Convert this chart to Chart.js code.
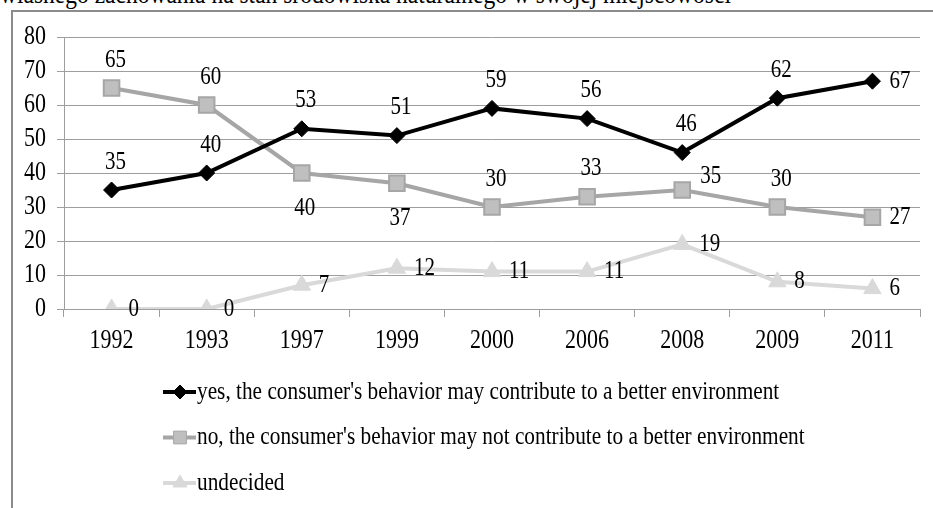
<!DOCTYPE html>
<html>
<head>
<meta charset="utf-8">
<script src="https://cdn.jsdelivr.net/npm/chart.js@4.4.1/dist/chart.umd.min.js"></script>
<style>
  body { margin: 0; background: #fff; overflow: hidden; }
  #wrap { position: relative; width: 933px; height: 508px; overflow: hidden; }
  #caption { position: absolute; left: 0; top: -21px; font: 23.5px 'Liberation Serif', serif; line-height: 24px; white-space: nowrap; color: #000; transform: scaleY(1.2); transform-origin: 0 0; }
  #frame { position: absolute; left: 11px; top: 10px; width: 940px; height: 520px; border-left: 2px solid #8c8c8c; border-top: 2px solid #8c8c8c; }
  canvas { position: absolute; left: 0; top: 0; }
</style>
</head>
<body>
<div id="wrap">
  <div id="caption">własnego zachowania na stan środowiska naturalnego w swojej miejscowości</div>
  <div id="frame"></div>
  <canvas id="myChart" width="933" height="508"></canvas>
</div>
<script>
'use strict';

let years = ['1992', '1993', '1997', '1999', '2000', '2006', '2008', '2009', '2011'];
let yesValues = [35, 40, 53, 51, 59, 56, 46, 62, 67];
let noValues = [65, 60, 40, 37, 30, 33, 35, 30, 27];
let undecidedValues = [0, 0, 7, 12, 11, 11, 19, 8, 6];
let yTicks = [0, 10, 20, 30, 40, 50, 60, 70, 80];

let yesLabel = "yes, the consumer's behavior may contribute to a better environment";
let noLabel = "no, the consumer's behavior may not contribute to a better environment";
let undecidedLabel = 'undecided';

// where the value label goes: t = above, b = below, r = right, q = up and right
let yesPlace = ['t', 't', 't', 't', 't', 't', 't', 't', 'r'];
let noPlace = ['t', 't', 'b', 'b', 't', 't', 'q', 't', 'r'];
let undecidedPlace = ['r', 'r', 'r', 'r', 'r', 'r', 'r', 'r', 'r'];

let serif = '"Liberation Serif", "Times New Roman", serif';
let gridGray = '#9e9e9e';
let textStretch = 1.2; // the original text is drawn a bit taller than wide

function tallText(ctx, text, x, y, align) {
    ctx.save();
    ctx.translate(x, y);
    ctx.scale(1, textStretch);
    ctx.textAlign = align;
    ctx.textBaseline = 'middle';
    ctx.fillText(text, 0, 0);
    ctx.restore();
}

let axisLabels = {
    id: 'axisLabels',
    afterDraw(chart) {
        let ctx = chart.ctx;
        let xs = chart.scales.x;
        let ys = chart.scales.y;
        ctx.save();
        ctx.font = '22px ' + serif;
        ctx.fillStyle = '#000';
        years.forEach(function (yr, i) {
            tallText(ctx, yr, xs.getPixelForValue(i), xs.top + 32, 'center');
        });
        yTicks.forEach(function (v) {
            tallText(ctx, String(v), ys.right - 18, ys.getPixelForValue(v), 'right');
        });
        ctx.restore();
    }
};

let valueLabels = {
    id: 'valueLabels',
    afterDatasetsDraw(chart) {
        let ctx = chart.ctx;
        ctx.save();
        ctx.font = '21px ' + serif;
        ctx.fillStyle = '#000';
        chart.data.datasets.forEach(function (ds, i) {
            let meta = chart.getDatasetMeta(i);
            meta.data.forEach(function (pt, j) {
                let place = ds.labelPlace[j];
                let text = String(ds.data[j]);
                if (place === 't') {
                    tallText(ctx, text, pt.x + 4, pt.y - 28, 'center');
                } else if (place === 'b') {
                    tallText(ctx, text, pt.x + 3, pt.y + 35, 'center');
                } else if (place === 'q') {
                    tallText(ctx, text, pt.x + 18, pt.y - 14, 'left');
                } else {
                    tallText(ctx, text, pt.x + 17, pt.y, 'left');
                }
            });
        });
        ctx.restore();
    }
};

let stackedLegend = {
    id: 'stackedLegend',
    afterDraw(chart) {
        let ctx = chart.ctx;
        let top = chart.chartArea.bottom + 83;
        ctx.save();
        ctx.font = '21.3px ' + serif;
        chart.data.datasets.forEach(function (ds, i) {
            let y = top + i * 45.5;
            ctx.strokeStyle = ds.borderColor;
            ctx.lineWidth = 4;
            ctx.beginPath();
            ctx.moveTo(163, y);
            ctx.lineTo(196, y);
            ctx.stroke();
            ctx.fillStyle = ds.pointBackgroundColor;
            ctx.strokeStyle = ds.pointBorderColor;
            ctx.lineWidth = 1;
            Chart.helpers.drawPoint(ctx, {
                pointStyle: ds.pointStyle,
                radius: ds.legendRadius,
                rotation: 0,
                borderWidth: 1
            }, 180, y);
            ctx.fillStyle = '#000';
            tallText(ctx, ds.label, 197, y, 'left');
        });
        ctx.restore();
    }
};

let ctx = document.getElementById('myChart').getContext('2d');

let chart = new Chart(ctx, {
    type: 'line',
    data: {
        labels: years,
        datasets: [
            {
                label: yesLabel,
                data: yesValues,
                labelPlace: yesPlace,
                borderColor: '#000000',
                borderWidth: 4,
                pointStyle: 'rectRot',
                pointRadius: 8,
                legendRadius: 7,
                pointBackgroundColor: '#000000',
                pointBorderColor: '#000000',
                pointBorderWidth: 1,
                tension: 0
            },
            {
                label: noLabel,
                data: noValues,
                labelPlace: noPlace,
                borderColor: '#a6a6a6',
                borderWidth: 4,
                pointStyle: 'rect',
                pointRadius: 11,
                legendRadius: 9,
                pointBackgroundColor: '#bfbfbf',
                pointBorderColor: '#a6a6a6',
                pointBorderWidth: 2,
                tension: 0
            },
            {
                label: undecidedLabel,
                data: undecidedValues,
                labelPlace: undecidedPlace,
                borderColor: '#d9d9d9',
                borderWidth: 4,
                pointStyle: 'triangle',
                pointRadius: 10,
                legendRadius: 8,
                pointBackgroundColor: '#d9d9d9',
                pointBorderColor: '#d9d9d9',
                pointBorderWidth: 1,
                tension: 0
            }
        ]
    },
    options: {
        responsive: false,
        animation: false,
        layout: { padding: { top: 37, right: 8, bottom: 159, left: 0 } },
        plugins: {
            legend: { display: false },
            tooltip: { enabled: false }
        },
        scales: {
            x: {
                offset: true,
                afterFit: function (s) { s.height = 40; },
                grid: { offset: true, drawOnChartArea: false, tickLength: 8, color: gridGray },
                border: { color: gridGray, width: 1 },
                ticks: { display: false }
            },
            y: {
                min: 0,
                max: 80,
                afterFit: function (s) { s.width = 64; },
                afterBuildTicks: function (s) { s.ticks = yTicks.map(function (v) { return { value: v }; }); },
                grid: { color: gridGray, tickLength: 7 },
                border: { color: gridGray, width: 1 },
                ticks: { display: false }
            }
        }
    },
    plugins: [valueLabels, axisLabels, stackedLegend]
});
</script>
</body>
</html>
